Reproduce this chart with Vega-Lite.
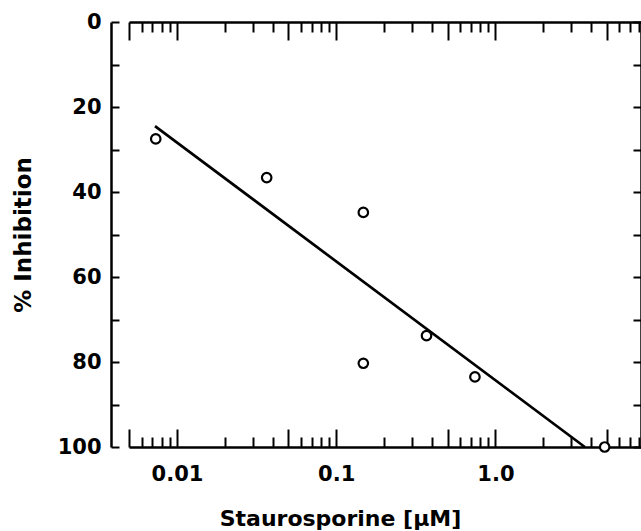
{
  "$schema": "https://vega.github.io/schema/vega-lite/v6.json",
  "width": 512,
  "height": 425,
  "autosize": "none",
  "padding": {"left": 129, "top": 22, "right": 0, "bottom": 84},
  "background": "white",
  "config": {
    "view": {"stroke": null},
    "axis": {
      "grid": false,
      "domainColor": "black",
      "tickColor": "black",
      "labelColor": "black",
      "titleColor": "black",
      "labelFont": "DejaVu Sans",
      "titleFont": "DejaVu Sans",
      "labelFontWeight": "bold",
      "titleFontWeight": "bold",
      "labelFontSize": 21,
      "titleFontSize": 22,
      "domainWidth": 2.5,
      "tickWidth": 2,
      "labelFlush": false,
      "labelOverlap": false,
      "labelBound": false
    }
  },
  "datasets": {
    "points": [
      {"conc": 0.00736, "inh": 27.5},
      {"conc": 0.0366, "inh": 36.6},
      {"conc": 0.148, "inh": 44.8},
      {"conc": 0.148, "inh": 80.3},
      {"conc": 0.369, "inh": 73.8},
      {"conc": 0.743, "inh": 83.5},
      {"conc": 4.85, "inh": 100}
    ],
    "fit": [
      {"conc": 0.00728, "inh": 24.5},
      {"conc": 3.64, "inh": 100}
    ]
  },
  "resolve": {"axis": {"x": "independent", "y": "independent"}},
  "layer": [
    {
      "data": {"name": "fit"},
      "mark": {"type": "line", "color": "black", "strokeWidth": 2.7},
      "encoding": {
        "x": {"field": "conc", "type": "quantitative",
          "scale": {"type": "log", "domain": [0.005, 8.2], "nice": false},
          "axis": {"orient": "top", "values": [0.005, 0.01, 0.05, 0.1, 0.5, 1, 5], "tickSize": -18, "labels": false, "title": null}},
        "y": {"field": "inh", "type": "quantitative",
          "scale": {"domain": [0, 100], "reverse": true, "nice": false, "zero": false},
          "axis": {"orient": "right", "values": [0, 10, 20, 30, 40, 50, 60, 70, 80, 90, 100], "tickSize": -8, "labels": false, "title": null}}
      }
    },
    {
      "data": {"name": "fit"},
      "mark": {"type": "line", "opacity": 0},
      "encoding": {
        "x": {"field": "conc", "type": "quantitative",
          "scale": {"type": "log", "domain": [0.005, 8.2], "nice": false},
          "axis": {"orient": "bottom", "values": [0.006, 0.007, 0.008, 0.009, 0.02, 0.03, 0.04, 0.06, 0.07, 0.08, 0.09, 0.2, 0.3, 0.4, 0.6, 0.7, 0.8, 0.9, 2, 3, 4, 6, 7, 8], "tickSize": -10, "labels": false, "domain": false, "title": null}},
        "y": {"field": "inh", "type": "quantitative",
          "scale": {"domain": [0, 100], "reverse": true, "nice": false, "zero": false},
          "axis": null}
      }
    },
    {
      "data": {"name": "fit"},
      "mark": {"type": "line", "opacity": 0},
      "encoding": {
        "x": {"field": "conc", "type": "quantitative",
          "scale": {"type": "log", "domain": [0.005, 8.2], "nice": false},
          "axis": {"orient": "top", "values": [0.006, 0.007, 0.008, 0.009, 0.02, 0.03, 0.04, 0.06, 0.07, 0.08, 0.09, 0.2, 0.3, 0.4, 0.6, 0.7, 0.8, 0.9, 2, 3, 4, 6, 7, 8], "tickSize": -10, "labels": false, "domain": false, "title": null}},
        "y": {"field": "inh", "type": "quantitative",
          "scale": {"domain": [0, 100], "reverse": true, "nice": false, "zero": false},
          "axis": null}
      }
    },
    {
      "data": {"name": "points"},
      "mark": {"type": "point", "shape": "circle", "filled": true, "fill": "white", "stroke": "black", "strokeWidth": 2.2, "size": 90, "opacity": 1},
      "encoding": {
        "x": {"field": "conc", "type": "quantitative",
          "scale": {"type": "log", "domain": [0.005, 8.2], "nice": false},
          "axis": {"orient": "bottom", "values": [0.005, 0.01, 0.05, 0.1, 0.5, 1, 5], "tickSize": -18,
            "labelExpr": "datum.value == 0.01 ? '0.01' : datum.value == 0.1 ? '0.1' : datum.value == 1 ? '1.0' : ''",
            "labelPadding": 34,
            "title": "Staurosporine [μM]", "titleX": 211, "titleY": 78, "titleBaseline": "alphabetic"}},
        "y": {"field": "inh", "type": "quantitative",
          "scale": {"domain": [0, 100], "reverse": true, "nice": false, "zero": false},
          "axis": {"orient": "left", "offset": 18, "values": [0, 10, 20, 30, 40, 50, 60, 70, 80, 90, 100], "tickSize": -8,
            "labelExpr": "datum.value % 20 == 0 ? datum.label : ''",
            "labelPadding": 18,
            "title": "% Inhibition", "titleFontSize": 23, "titleX": -81, "titleBaseline": "alphabetic"}}
      }
    }
  ]
}
